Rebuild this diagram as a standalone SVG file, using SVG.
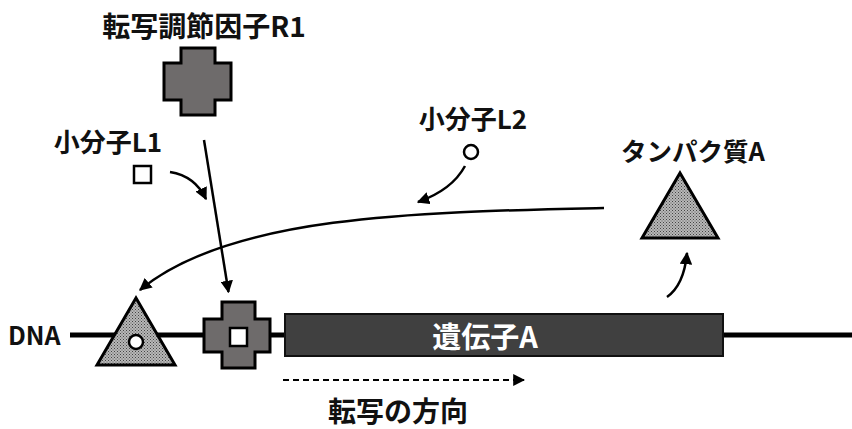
<svg xmlns="http://www.w3.org/2000/svg" width="852" height="429" viewBox="0 0 852 429">
<defs>
<pattern id="dots" width="3" height="3" patternUnits="userSpaceOnUse">
<rect width="3" height="3" fill="#b8b8b8"/>
<rect x="0" y="0" width="1" height="1" fill="#444"/>
<rect x="1.5" y="1.5" width="1" height="1" fill="#555"/>
</pattern>
<marker id="ah" viewBox="0 0 10 10" refX="9" refY="5" markerWidth="5" markerHeight="5" orient="auto" markerUnits="strokeWidth">
<path d="M0,0 L10,5 L0,10 z" fill="#000"/>
</marker>
<marker id="ahd" viewBox="0 0 10 10" refX="9" refY="5" markerWidth="6" markerHeight="6" orient="auto" markerUnits="strokeWidth">
<path d="M0,0 L10,5 L0,10 z" fill="#000"/>
</marker>
</defs>
<style>
.t{font-family:"Noto Sans CJK JP","Liberation Sans",sans-serif;font-weight:bold;fill:#111;}
.cross{fill:#6e6b6b;stroke:#000;stroke-width:3;}
.tri{fill:url(#dots);stroke:#000;stroke-width:3;stroke-linejoin:miter;}
.c{fill:none;stroke:#000;stroke-width:2.5;}
</style>

<g id="dna">
<line x1="70" y1="335" x2="852" y2="335" stroke="#000" stroke-width="5"/>
<text class="t" x="8" y="345" font-size="25">DNA</text>
</g>

<g id="r1">
<text class="t" x="204" y="37" font-size="28" text-anchor="middle">転写調節因子R1</text>
<path class="cross" d="M181,48 H215 V63 H231 V100 H215 V115 H181 V100 H164 V63 H181 Z"/>
</g>

<g id="l1">
<text class="t" x="108" y="152" font-size="26" text-anchor="middle">小分子L1</text>
<rect x="134" y="166" width="17" height="17" fill="#fff" stroke="#000" stroke-width="2.5"/>
</g>

<g id="l2">
<text class="t" x="473" y="129" font-size="26" text-anchor="middle">小分子L2</text>
<circle cx="471" cy="152" r="7" fill="#fff" stroke="#000" stroke-width="2.5"/>
</g>

<g id="proteinA">
<text class="t" x="693" y="161" font-size="25.5" text-anchor="middle">タンパク質A</text>
<polygon class="tri" points="680,173 718,238 642,238"/>
</g>

<g id="site1">
<polygon class="tri" points="136,298 175,365 97,365"/>
<circle cx="136" cy="342" r="7" fill="#fff" stroke="#000" stroke-width="2.5"/>
</g>

<g id="site2">
<path class="cross" d="M222,302 H255 V319 H270 V352 H255 V368 H222 V352 H204 V319 H222 Z"/>
<rect x="230" y="328" width="17" height="18" fill="#fff" stroke="#000" stroke-width="2.5"/>
</g>

<g id="geneA">
<rect x="285" y="314" width="438" height="42" fill="#404040" stroke="#111" stroke-width="2"/>
<text class="t" x="485" y="348" font-size="29" text-anchor="middle" style="fill:#fff">遺伝子A</text>
</g>

<g id="direction">
<text class="t" x="398" y="422" font-size="28" text-anchor="middle">転写の方向</text>
</g>

<g id="connectors">
<line class="c" x1="204" y1="140" x2="228.5" y2="292" marker-end="url(#ah)"/>
<path class="c" d="M170,172 Q195,176 206,199" marker-end="url(#ah)"/>
<path class="c" d="M465,166 Q452,190 418,202" marker-end="url(#ah)"/>
<path class="c" d="M604,208 C420,212 230,215 140,290" marker-end="url(#ah)"/>
<path class="c" d="M667,297 Q684,285 687,253" marker-end="url(#ah)"/>
<line x1="283" y1="380" x2="524" y2="380" stroke="#000" stroke-width="2" stroke-dasharray="6,4" marker-end="url(#ahd)"/>
</g>
</svg>
